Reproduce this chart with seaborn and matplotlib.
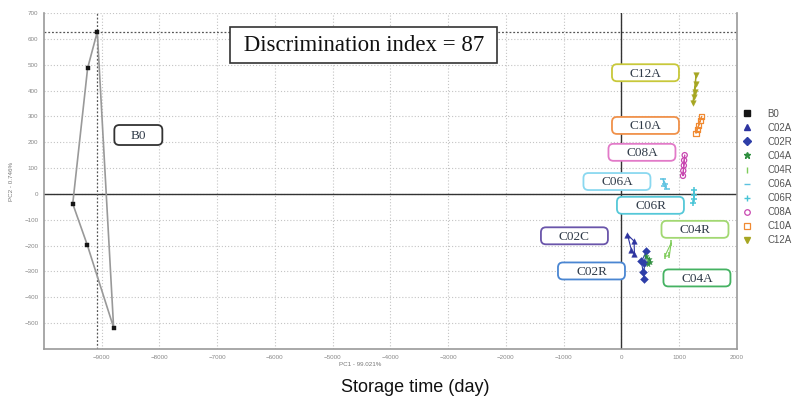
import matplotlib
matplotlib.use("Agg")
import matplotlib.pyplot as plt
from matplotlib.lines import Line2D
from matplotlib.patches import FancyBboxPatch
import seaborn as sns
import pandas as pd

# Puntos de cada grupo (PC1, PC2)
groups = ["B0", "C02A", "C02R", "C04A", "C04R", "C06A", "C06R", "C08A", "C10A", "C12A"]
b0_x = [-9075, -9242, -9500, -9247, -8792]
b0_y = [627, 487, -38, -198, -517]
c02a_x = [104, 219, 225, 173]
c02a_y = [-157, -183, -234, -218]
c02r_x = [433, 398, 388, 375, 346]
c02r_y = [-222, -267, -331, -302, -261]
c04a_x = [430, 470, 500, 455]
c04a_y = [-240, -250, -262, -272]
c04r_x = [860, 830, 750]
c04r_y = [-190, -238, -242]
c06a_x = [720, 760, 780, 740]
c06a_y = [58, 40, 20, 30]
c06r_x = [1260, 1250, 1255, 1245]
c06r_y = [15, -5, -20, -34]
c08a_x = [1095, 1085, 1080, 1070, 1065]
c08a_y = [150, 130, 110, 90, 70]
c10a_x = [1390, 1365, 1340, 1310, 1290]
c10a_y = [300, 285, 265, 250, 235]
c12a_x = [1290, 1285, 1275, 1260, 1235]
c12a_y = [460, 425, 395, 375, 350]

points = {
    "B0": (b0_x, b0_y), "C02A": (c02a_x, c02a_y), "C02R": (c02r_x, c02r_y),
    "C04A": (c04a_x, c04a_y), "C04R": (c04r_x, c04r_y), "C06A": (c06a_x, c06a_y),
    "C06R": (c06r_x, c06r_y), "C08A": (c08a_x, c08a_y), "C10A": (c10a_x, c10a_y),
    "C12A": (c12a_x, c12a_y),
}

# Etiquetas en cajas: texto, centro (datos), color del borde
label_text = ["B0", "C12A", "C10A", "C08A", "C06A", "C06R", "C04R", "C02C", "C02R", "C04A"]
label_x = [-8364, 416, 416, 355, -78, 502, 1273, -814, -519, 1307]
label_y = [228, 469, 265, 161, 48, -44, -137, -162, -298, -325]
label_edge = ["#333333", "#c8c83a", "#f0914a", "#e27ac8", "#8ad8f0", "#55c8d8",
              "#a2d872", "#6a55aa", "#4a86d2", "#45b262"]

colors = {
    "B0": "#151515", "C02A": "#2e34a0", "C02R": "#2e3ea8", "C04A": "#2f8f3f",
    "C04R": "#7fcc5a", "C06A": "#5cc2e0", "C06R": "#48c4d6", "C08A": "#c848b0",
    "C10A": "#f08a32", "C12A": "#a6a622",
}
markers = {
    "B0": "s", "C02A": "^", "C02R": "D", "C04A": "*", "C04R": "|",
    "C06A": "_", "C06R": "+", "C08A": "o", "C10A": "s", "C12A": "v",
}
hollow = {"C08A", "C10A"}

sns.set_style("white")
plt.rcParams["font.family"] = ["Liberation Sans", "DejaVu Sans"]

fig = plt.figure(figsize=(8.12, 4.07), dpi=100)
ax = fig.add_axes([0.054, 0.1425, 0.8536, 0.8255])

for g in groups:
    xs, ys = points[g]
    df = pd.DataFrame({"x": xs, "y": ys})
    col = colors[g]
    line_col = "#999999" if g == "B0" else col
    ax.plot(xs + xs[:1], ys + ys[:1], color=line_col, lw=1.2 if g == "B0" else 0.8, zorder=2)
    if g in hollow:
        sns.scatterplot(data=df, x="x", y="y", ax=ax, marker=markers[g], s=14,
                        facecolor="none", edgecolor=col, linewidth=0.9, zorder=3)
    elif markers[g] in ("|", "_", "+"):
        sns.scatterplot(data=df, x="x", y="y", ax=ax, marker=markers[g], s=16,
                        color=col, linewidth=1.1, zorder=3)
    else:
        sns.scatterplot(data=df, x="x", y="y", ax=ax, marker=markers[g],
                        s=10 if g == "B0" else 16,
                        color=col, edgecolor=col, linewidth=0.3, zorder=3)

# Líneas de referencia (ejes en cero y mira sobre el punto superior de B0)
ax.axvline(0, color="#333333", lw=1.0, zorder=1)
ax.axhline(0, color="#333333", lw=1.0, zorder=1)
ax.axvline(b0_x[0], color="#555555", lw=0.9, ls=(0, (1.5, 1.5)), zorder=1)
ax.axhline(b0_y[0], color="#555555", lw=0.9, ls=(0, (1.5, 1.5)), zorder=1)

ax.set_xlim(-10000, 2000)
ax.set_ylim(-600, 700)
ax.set_xticks(range(-9000, 2001, 1000))
ax.set_yticks(range(-500, 701, 100))
ax.grid(True, color="#c4c4c4", ls=(0, (1, 1.8)), lw=0.8)
ax.tick_params(labelsize=4.5, colors="#888888", length=2, width=0.5, pad=2)
for side in ["left", "bottom", "right"]:
    ax.spines[side].set_color("#9a9a9a")
    ax.spines[side].set_linewidth(1.2)
ax.spines["top"].set_visible(False)

ax.set_xlabel("PC1 - 99.021%", fontsize=4.5, color="#777777")
ax.xaxis.set_label_coords(0.456, -0.04)
ax.set_ylabel("PC2 - 0.746%", fontsize=4.5, color="#777777")
ax.yaxis.set_label_coords(-0.043, 0.5)

# Cajas redondeadas de tamaño fijo en píxeles
(x0, y0), (x1, y1) = ax.transData.transform([(0, 0), (1000, 100)])
px_x = 1000 / (x1 - x0)   # unidades de datos por píxel en x
px_y = 100 / (y1 - y0)    # unidades de datos por píxel en y
for t, lx, ly, ec in zip(label_text, label_x, label_y, label_edge):
    wpx, hpx = (48, 20) if t == "B0" else (67, 17)
    w, h = wpx * px_x, hpx * px_y
    box = FancyBboxPatch((lx - w / 2, ly - h / 2), w, h,
                         boxstyle=f"round,pad=0,rounding_size={5 * px_x}",
                         mutation_aspect=px_y / px_x,
                         fc="white", ec=ec, lw=1.3, zorder=5)
    ax.add_patch(box)
    ax.annotate(t, (lx, ly), xytext=(0, -0.6), textcoords="offset points",
                ha="center", va="center", fontsize=9.5, family="Liberation Serif",
                color="#2f3a48", zorder=6)

ax.text(-4459, 576, " Discrimination index = 87 ", ha="center", va="center",
        fontsize=16.5, family="Liberation Serif", color="#111111", zorder=5,
        bbox=dict(boxstyle="square,pad=0.33", fc="white", ec="#333333", lw=1.2))

handles = []
for g in groups:
    m = markers[g]
    if g in hollow:
        h = Line2D([], [], ls="none", marker=m, markersize=4, mfc="none",
                   mec=colors[g], mew=0.9)
    else:
        h = Line2D([], [], ls="none", marker=m, markersize=5 if m in "|_+*" else 4,
                   color=colors[g], mew=1.0)
    handles.append(h)
leg = fig.legend(handles, groups, loc="upper left", bbox_to_anchor=(0.908, 0.745),
                 frameon=False, fontsize=7, labelspacing=0.42, handlelength=1.0,
                 handletextpad=1.6, borderpad=0)
for txt in leg.get_texts():
    txt.set_color("#555555")

fig.text(0.511, 0.049, "Storage time (day)", ha="center", va="center", fontsize=13,
         color="#111111")

fig.savefig("out.png", dpi=100)
